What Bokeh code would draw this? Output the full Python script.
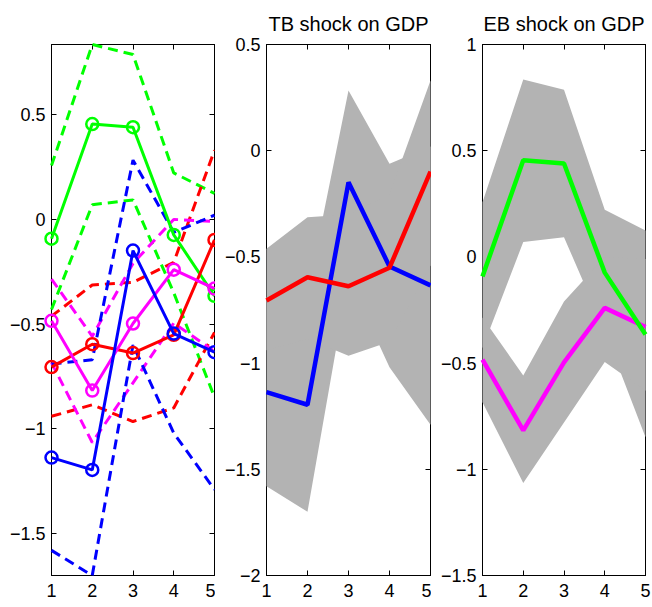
from bokeh.plotting import figure
from bokeh.layouts import row
from bokeh.models import (Range1d, FixedTicker, LinearAxis, CustomJSTickFormatter,
                          CustomLabelingPolicy)
from bokeh.embed import file_html
from bokeh.resources import INLINE

# ---------------- data ----------------
horizon = [1, 2, 3, 4, 5]

# TB shock on GDP (blue / red)
tb_blue = [-1.137, -1.196, -0.149, -0.545, -0.634]
tb_blue_lo = [-1.58, -1.70, -0.60, -1.02, -1.29]
tb_blue_hi = [-0.69, -0.67, 0.283, -0.062, 0.02]
tb_red = [-0.705, -0.596, -0.638, -0.551, -0.098]
tb_red_lo = [-0.94, -0.885, -0.965, -0.90, -0.54]
tb_red_hi = [-0.462, -0.313, -0.30, -0.205, 0.33]

# EB shock on GDP (green / magenta)
eb_green = [-0.092, 0.455, 0.44, -0.074, -0.365]
eb_green_lo = [-0.43, 0.07, 0.093, -0.35, -0.849]
eb_green_hi = [0.257, 0.835, 0.787, 0.222, 0.124]
eb_mag = [-0.484, -0.817, -0.497, -0.24, -0.33]
eb_mag_lo = [-0.684, -1.065, -0.78, -0.495, -0.63]
eb_mag_hi = [-0.285, -0.558, -0.21, 0.0, -0.01]

ticks1 = [-1.5, -1, -0.5, 0, 0.5]
ticks2 = [-2, -1.5, -1, -0.5, 0, 0.5]
ticks3 = [-1.5, -1, -0.5, 0, 0.5, 1]
titles = ["", "TB shock on GDP", "EB shock on GDP"]

GRAY = "#B3B3B3"
FONT = "Liberation Sans"

fmt_code = "const v = Math.round(tick*10)/10; return v < 0 ? '\\u2212' + String(-v) : String(v);"
hide_code = "for (const i of indices) { indices.unset(i) } return indices"


def style_axis(ax, show_labels):
    ax.axis_line_color = "black"
    ax.axis_line_width = 1
    ax.major_tick_line_color = "black"
    ax.major_tick_in = 5
    ax.major_tick_out = 0
    ax.minor_tick_line_color = None
    ax.major_label_text_font = FONT
    ax.major_label_text_color = "black"
    if show_labels:
        ax.major_label_text_font_size = "18px"
    else:
        ax.major_label_text_font_size = "0px"
        ax.major_label_standoff = 0
        ax.major_label_policy = CustomLabelingPolicy(code=hide_code)


def make_fig(width, left, right, yr, yticks, title):
    p = figure(width=width, height=607, x_range=Range1d(1, 5), y_range=Range1d(*yr),
               output_backend="svg", toolbar_location=None,
               min_border_left=left, min_border_right=right,
               min_border_top=44, min_border_bottom=32,
               x_axis_location=None, y_axis_location=None)
    p.grid.visible = False
    p.outline_line_color = "black"
    p.background_fill_color = "white"
    p.border_fill_color = "white"
    if title:
        p.title.text = title
        p.title.text_font = FONT
        p.title.text_font_size = "20px"
        p.title.text_font_style = "normal"
        p.title.text_color = "black"
        p.title.align = "center"
        p.title.standoff = 19
    yfmt = CustomJSTickFormatter(code=fmt_code)
    bottom = LinearAxis(ticker=FixedTicker(ticks=horizon))
    style_axis(bottom, True)
    bottom.major_label_standoff = 8
    p.add_layout(bottom, "below")
    leftax = LinearAxis(ticker=FixedTicker(ticks=yticks), formatter=yfmt)
    style_axis(leftax, True)
    leftax.major_label_standoff = 6
    p.add_layout(leftax, "left")
    top = LinearAxis(ticker=FixedTicker(ticks=horizon))
    style_axis(top, False)
    p.add_layout(top, "above")
    rightax = LinearAxis(ticker=FixedTicker(ticks=yticks))
    style_axis(rightax, False)
    p.add_layout(rightax, "right")
    return p


def band(p, lo, hi):
    xs = horizon + horizon[::-1]
    ys = list(hi) + list(lo)[::-1]
    p.patch(xs, ys, fill_color=GRAY, line_color=None, level="overlay")


# ---------------- panel 1 ----------------
all_vals = (tb_blue + tb_blue_lo + tb_blue_hi + tb_red + tb_red_lo + tb_red_hi +
            eb_green + eb_green_lo + eb_green_hi + eb_mag + eb_mag_lo + eb_mag_hi)
p1 = make_fig(215, 51, 1, (min(all_vals), max(all_vals)), ticks1, titles[0])
series = [
    (eb_green, eb_green_lo, eb_green_hi, "#00FF00"),
    (tb_red, tb_red_lo, tb_red_hi, "#FF0000"),
    (eb_mag, eb_mag_lo, eb_mag_hi, "#FF00FF"),
    (tb_blue, tb_blue_lo, tb_blue_hi, "#0000FF"),
]
for mid, lo, hi, col in series:
    p1.line(horizon, hi, line_color=col, line_width=3, line_dash="10 6", level="overlay")
    p1.line(horizon, lo, line_color=col, line_width=3, line_dash="10 6", level="overlay")
for mid, lo, hi, col in series:
    p1.line(horizon, mid, line_color=col, line_width=3, level="overlay")
    p1.scatter(horizon, mid, marker="circle", size=12, fill_color=None,
               line_color=col, line_width=2.5, level="overlay")

# ---------------- panel 2 ----------------
p2 = make_fig(216, 51, 1, (-2, 0.5), ticks2, titles[1])
band(p2, tb_blue_lo, tb_blue_hi)
band(p2, tb_red_lo, tb_red_hi)
p2.line(horizon, tb_blue, line_color="#0000FF", line_width=4.5, level="overlay")
p2.line(horizon, tb_red, line_color="#FF0000", line_width=4.5, level="overlay")

# ---------------- panel 3 ----------------
p3 = make_fig(221, 51, 7, (-1.5, 1), ticks3, titles[2])
band(p3, eb_green_lo, eb_green_hi)
band(p3, eb_mag_lo, eb_mag_hi)
p3.line(horizon, eb_mag, line_color="#FF00FF", line_width=4.5, level="overlay")
p3.line(horizon, eb_green, line_color="#00FF00", line_width=4.5, level="overlay")

layout = row(p1, p2, p3, spacing=0)
with open("out.html", "w", encoding="utf-8") as f:
    f.write(file_html(layout, INLINE))
